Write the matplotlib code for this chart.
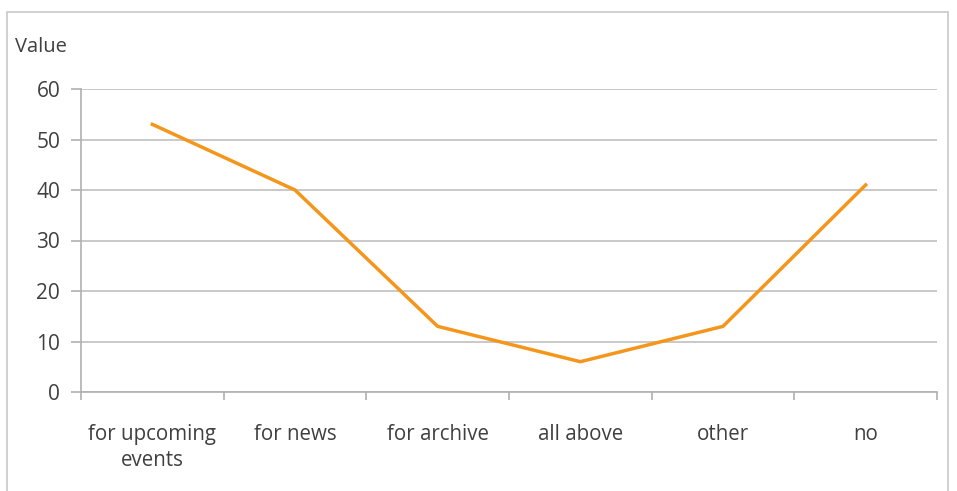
import matplotlib
matplotlib.use("Agg")
import matplotlib.pyplot as plt
from matplotlib.patches import Rectangle

categories = ["for upcoming\nevents", "for news", "for archive", "all above", "other", "no"]
values = [53, 40, 13, 6, 13, 41]
y_ticks = [0, 10, 20, 30, 40, 50, 60]

plt.rcParams['font.family'] = ['Open Sans', 'DejaVu Sans']

W, H = 957, 491
fig = plt.figure(figsize=(W / 100, H / 100), dpi=100)

# outer chart frame
fig.patches.append(Rectangle((7 / W, -0.05), (948 - 7) / W, 1.05 - 12 / H,
                             transform=fig.transFigure, fill=False,
                             edgecolor="#c8c8c8", linewidth=1.2))

x0, x1 = 81, 937
y_top, y_bot = 89, 392
ax = fig.add_axes([x0 / W, 1 - y_bot / H, (x1 - x0) / W, (y_bot - y_top) / H])

n = len(categories)
xs = list(range(n))
ax.plot(xs, values, color="#F5961C", linewidth=2.5, solid_joinstyle="miter")

ax.set_xlim(-0.5, n - 0.5)
ax.set_ylim(0, 60)
ax.set_yticks(y_ticks)
ax.set_yticklabels([str(v) for v in y_ticks], fontsize=15, color="#404040")
ax.grid(axis="y", color="#c0c0c0", linewidth=1.2)
ax.set_axisbelow(True)

ax.set_xticks([i for i in xs], minor=False)
ax.set_xticklabels(categories, fontsize=14.8, color="#404040", linespacing=1.3)
ax.tick_params(axis="x", which="major", length=0, pad=23)
ax.set_xticks([i - 0.5 for i in range(n + 1)], minor=True)
ax.tick_params(axis="x", which="minor", length=6, color="#b0b0b0", width=1.2)
ax.tick_params(axis="y", length=7, color="#b0b0b0", width=1.2, pad=8)

for s in ["top", "right"]:
    ax.spines[s].set_visible(False)
for s in ["left", "bottom"]:
    ax.spines[s].set_color("#b0b0b0")
    ax.spines[s].set_linewidth(1.2)

fig.text(15 / W, 1 - 47 / H, "Value", fontsize=14.5, color="#404040", va="center", ha="left")

fig.savefig("out.png", dpi=100)
